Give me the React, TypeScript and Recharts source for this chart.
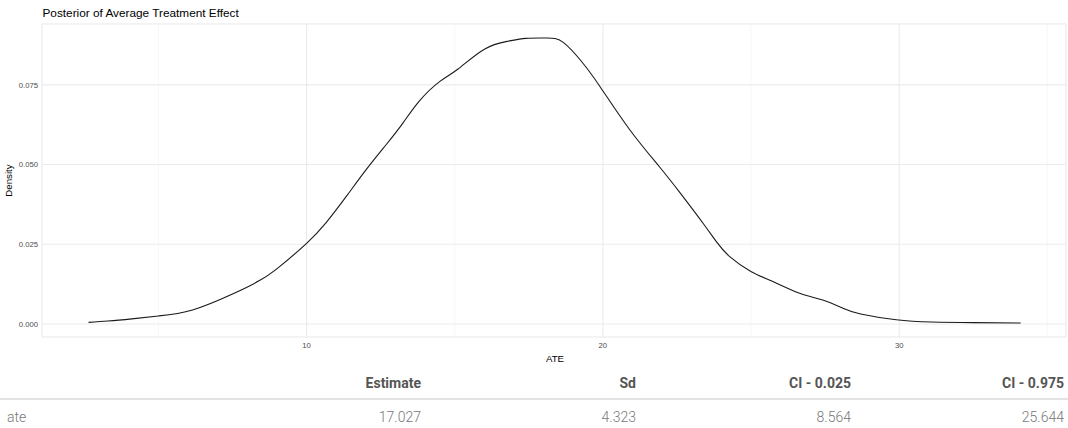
import { LineChart, Line, XAxis, YAxis, CartesianGrid } from "recharts";

// density of the posterior ATE draws
const ateGrid = [
  2.64, 3.3, 4.1, 5.0, 6.15, 7.5, 8.41, 9.09, 10.0, 10.66, 11.34, 12.01, 12.69,
  13.25, 13.81, 14.5, 15.1, 16.0, 16.8, 17.4, 18.1, 18.65, 19.3, 19.9, 20.9, 21.9,
  22.6, 23.38, 23.83, 24.28, 25.01, 25.74, 26.64, 27.42, 28.1, 28.7, 29.9, 31.1,
  32.5, 34.1,
];
const densityValues = [
  0.0005, 0.0009, 0.0016, 0.0025, 0.0044, 0.0094, 0.0136, 0.018, 0.0253, 0.0318,
  0.04, 0.0484, 0.0563, 0.063, 0.07, 0.0761, 0.0799, 0.0862, 0.0887, 0.0896,
  0.0897, 0.0884, 0.0821, 0.0745, 0.061, 0.0494, 0.0412, 0.0316, 0.0258, 0.0211,
  0.0164, 0.0133, 0.0096, 0.0075, 0.0049, 0.0031, 0.0013, 0.0006, 0.0004, 0.0003,
];

const xMajor = [10, 20, 30];
const xMinor = [5, 15, 25, 35];
const yMajor = [0, 0.025, 0.05, 0.075];
const yMinor = [0.0125, 0.0375, 0.0625, 0.0875];
const xDomain: [number, number] = [1.07, 35.63];
const yDomain: [number, number] = [-0.0041, 0.0941];

// summary table
const tableHeaders = ["Estimate", "Sd", "CI - 0.025", "CI - 0.975"];
const rowName = "ate";
const rowValues = ["17.027", "4.323", "8.564", "25.644"];

const data = ateGrid.map((ate, i) => ({ ate, density: densityValues[i] }));

const tickStyle = { fontSize: 7.7, fill: "#4d4d4d", fontFamily: "Liberation Sans, Arial, sans-serif" };
const colWidths = [200, 225, 215, 215, 213];

export default function App() {
  return (
    <div style={{ position: "relative", width: 1068, height: 428, background: "#fff", overflow: "hidden" }}>
      <style>{`body{margin:0}`}</style>

      <LineChart width={1068} height={372} data={data} margin={{ top: 24, right: 2, left: 0, bottom: 0 }}>
        {/* minor grid from hidden axes */}
        <XAxis xAxisId="minor" type="number" dataKey="ate" domain={xDomain} ticks={xMinor} hide />
        <YAxis yAxisId="minor" type="number" domain={yDomain} ticks={yMinor} hide />
        <CartesianGrid xAxisId="minor" yAxisId="minor" stroke="#f4f4f4" strokeWidth={0.6} />
        <CartesianGrid stroke="#ebebeb" strokeWidth={1.1} />
        <XAxis
          type="number"
          dataKey="ate"
          domain={xDomain}
          ticks={xMajor}
          height={35}
          axisLine={false}
          tickLine={false}
          tickSize={0}
          tickMargin={6}
          tick={tickStyle}
        />
        <YAxis
          type="number"
          domain={yDomain}
          ticks={yMajor}
          width={42}
          axisLine={false}
          tickLine={false}
          tickSize={0}
          tickMargin={4}
          tick={tickStyle}
          tickFormatter={(v: number) => v.toFixed(3)}
        />
        <Line
          type="natural"
          dataKey="density"
          stroke="#1a1a1a"
          strokeWidth={1.1}
          dot={false}
          activeDot={false}
          isAnimationActive={false}
        />
      </LineChart>

      {/* titles */}
      <svg
        width={1068}
        height={372}
        style={{ position: "absolute", left: 0, top: 0, pointerEvents: "none" }}
        fontFamily="Liberation Sans, Arial, sans-serif"
      >
        <text x={42.5} y={16.7} fontSize={11.8} fill="#000">
          Posterior of Average Treatment Effect
        </text>
        <text x={11.5} y={180.5} fontSize={9.7} fill="#000" textAnchor="middle" transform="rotate(-90 11.5 180.5)">
          Density
        </text>
        <text x={555} y={362} fontSize={9.7} fill="#000" textAnchor="middle">
          ATE
        </text>
      </svg>

      {/* summary table */}
      <div style={{ fontFamily: "Roboto, sans-serif", fontSize: 14 }}>
        <div style={{ display: "flex", height: 26, lineHeight: "22px", borderBottom: "2px solid #e2e2e2" }}>
          <div style={{ width: colWidths[0] }} />
          {tableHeaders.map((h, i) => (
            <div
              key={h}
              style={{ width: colWidths[i + 1], textAlign: "right", paddingRight: 4, boxSizing: "border-box", fontWeight: 700, color: "#555" }}
            >
              {h}
            </div>
          ))}
        </div>
        <div style={{ display: "flex", lineHeight: "34px", color: "#777", fontWeight: 300 }}>
          <div style={{ width: colWidths[0], paddingLeft: 7, boxSizing: "border-box" }}>{rowName}</div>
          {rowValues.map((v, i) => (
            <div key={i} style={{ width: colWidths[i + 1], textAlign: "right", paddingRight: 4, boxSizing: "border-box" }}>
              {v}
            </div>
          ))}
        </div>
      </div>
    </div>
  );
}
